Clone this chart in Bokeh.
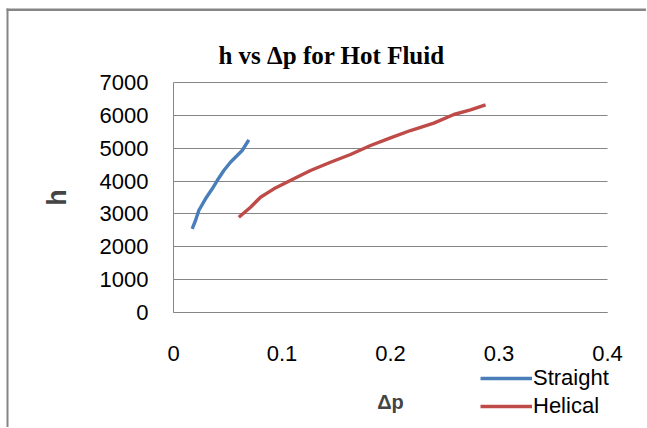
from bokeh.plotting import figure
from bokeh.models import (Range1d, FixedTicker, Label, Legend, LegendItem, BoxAnnotation)
from bokeh.embed import file_html
from bokeh.resources import INLINE

# Data
straight_dp = [0.0172, 0.0203, 0.0233, 0.0295, 0.0357, 0.0403, 0.0464, 0.0525, 0.0587, 0.0633, 0.0694]
straight_h = [2547, 2800, 3104, 3460, 3765, 4017, 4322, 4574, 4778, 4930, 5256]
helical_dp = [0.0602, 0.0710, 0.0802, 0.0925, 0.1109, 0.1263, 0.1447, 0.1631, 0.1816,
              0.2000, 0.2184, 0.2399, 0.2584, 0.2737, 0.2876]
helical_h = [2900, 3205, 3509, 3764, 4068, 4322, 4574, 4809, 5082,
             5316, 5539, 5762, 6026, 6168, 6321]
x_ticks = [0, 0.1, 0.2, 0.3, 0.4]
y_ticks = [0, 1000, 2000, 3000, 4000, 5000, 6000, 7000]

title_text = "h vs \u0394p for Hot Fluid"
x_label = "\u0394p"
y_label = "h"

GRID = "#868686"
TICK_FONT = "Liberation Sans"

W, H = 646, 427
# plot area (pixels) as in the reference
FL, FR, FT, FB = 173, 607, 82, 312
XMAX, YMAX = 0.4, 7000
xpx = (FR - FL) / XMAX
ypx = (FB - FT) / YMAX
x_range = Range1d(-FL / xpx, (W - FL) / xpx)
y_range = Range1d(-(H - FB) / ypx, YMAX + FT / ypx)

def px_x(px):
    return (px - FL) / xpx

def px_y(py):
    return (FB - py) / ypx

p = figure(width=W, height=H, output_backend="svg", toolbar_location=None,
           x_range=x_range, y_range=y_range,
           min_border_left=0, min_border_right=0, min_border_top=0, min_border_bottom=0)
p.outline_line_color = None
p.background_fill_color = "white"
p.border_fill_color = "white"

r1 = p.line(straight_dp, straight_h, line_color="#4A7EBB", line_width=3.4)
r2 = p.line(helical_dp, helical_h, line_color="#BE4B48", line_width=3.4)

# axes
p.xaxis.ticker = FixedTicker(ticks=x_ticks)
p.yaxis.ticker = FixedTicker(ticks=y_ticks)
p.xaxis.fixed_location = 0
p.yaxis.fixed_location = 0
p.xaxis.bounds = (0, XMAX)
p.yaxis.bounds = (0, YMAX)
for ax in (p.xaxis[0], p.yaxis[0]):
    ax.axis_line_color = GRID
    ax.axis_line_width = 1
    ax.major_tick_line_color = None
    ax.minor_tick_line_color = None
    ax.major_tick_out = 0
    ax.major_tick_in = 0
    ax.minor_tick_out = 0
    ax.minor_tick_in = 0
    ax.major_label_text_font = TICK_FONT
    ax.major_label_text_font_size = "22px"
    ax.major_label_text_color = "#000000"
p.yaxis.major_label_standoff = 25
p.xaxis.major_label_standoff = 33

p.xaxis.axis_label = x_label
p.xaxis.axis_label_text_font = TICK_FONT
p.xaxis.axis_label_text_font_style = "bold"
p.xaxis.axis_label_text_font_size = "20px"
p.xaxis.axis_label_standoff = 27

p.yaxis.axis_label = y_label
p.yaxis.axis_label_text_font = TICK_FONT
p.yaxis.axis_label_text_font_style = "bold"
p.yaxis.axis_label_text_font_size = "27px"
p.yaxis.axis_label_standoff = 25

p.xgrid.grid_line_color = None
p.ygrid.grid_line_color = GRID
p.ygrid.grid_line_width = 1
p.ygrid.cross_bounds = (0, XMAX)

# title
p.add_layout(Label(x=px_x(331), y=px_y(55), text=title_text, text_align="center",
                   text_baseline="alphabetic", text_font="Liberation Serif",
                   text_font_style="bold", text_font_size="25px", text_color="#000000"))

# outer chart border (left & top)
p.add_layout(BoxAnnotation(left=px_x(6), right=px_x(8), bottom=px_y(H), top=px_y(8),
                           fill_color=GRID, fill_alpha=1, line_color=None, level="underlay"))
p.add_layout(BoxAnnotation(left=px_x(6), right=px_x(W), bottom=px_y(10.5), top=px_y(8),
                           fill_color=GRID, fill_alpha=1, line_color=None, level="underlay"))

legend = Legend(items=[LegendItem(label="Straight", renderers=[r1]),
                       LegendItem(label="Helical", renderers=[r2])],
                location=(480, H - 420), orientation="vertical",
                glyph_width=52, glyph_height=28, label_height=28, spacing=0,
                padding=0, margin=0, label_standoff=1,
                label_text_font=TICK_FONT, label_text_font_size="22px",
                label_text_color="#000000",
                border_line_color=None, background_fill_alpha=0)
p.add_layout(legend, "center")

open("out.html", "w").write(file_html(p, INLINE))
